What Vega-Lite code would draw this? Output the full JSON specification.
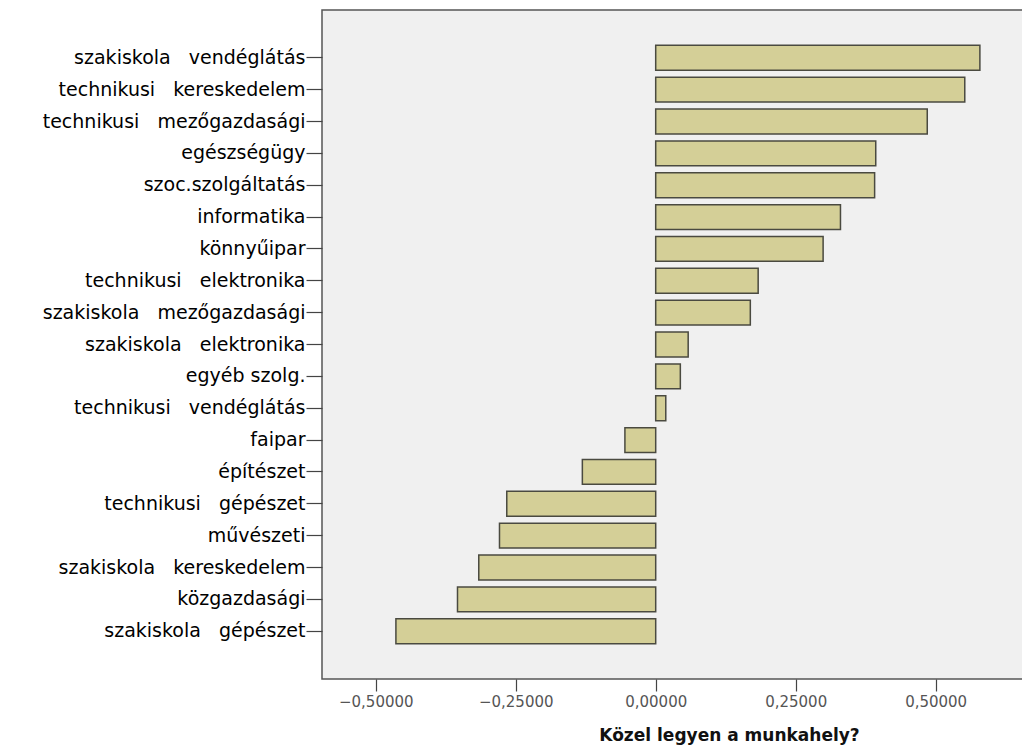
{
  "$schema": "https://vega.github.io/schema/vega-lite/v6.json",
  "width": 701,
  "height": 669,
  "autosize": "none",
  "padding": {"left": 322, "top": 10, "right": 0, "bottom": 71},
  "background": "white",
  "data": {
    "values": [
      {"kategoria": "szakiskola\u00a0\u00a0\u00a0vendéglátás", "ertek": 0.579},
      {"kategoria": "technikusi\u00a0\u00a0\u00a0kereskedelem", "ertek": 0.552},
      {"kategoria": "technikusi\u00a0\u00a0\u00a0mezőgazdasági", "ertek": 0.485},
      {"kategoria": "egészségügy", "ertek": 0.393},
      {"kategoria": "szoc.szolgáltatás", "ertek": 0.391},
      {"kategoria": "informatika", "ertek": 0.330},
      {"kategoria": "könnyűipar", "ertek": 0.299},
      {"kategoria": "technikusi\u00a0\u00a0\u00a0elektronika", "ertek": 0.183},
      {"kategoria": "szakiskola\u00a0\u00a0\u00a0mezőgazdasági", "ertek": 0.169},
      {"kategoria": "szakiskola\u00a0\u00a0\u00a0elektronika", "ertek": 0.058},
      {"kategoria": "egyéb szolg.", "ertek": 0.044},
      {"kategoria": "technikusi\u00a0\u00a0\u00a0vendéglátás", "ertek": 0.018},
      {"kategoria": "faipar", "ertek": -0.055},
      {"kategoria": "építészet", "ertek": -0.131},
      {"kategoria": "technikusi\u00a0\u00a0\u00a0gépészet", "ertek": -0.266},
      {"kategoria": "művészeti", "ertek": -0.279},
      {"kategoria": "szakiskola\u00a0\u00a0\u00a0kereskedelem", "ertek": -0.316},
      {"kategoria": "közgazdasági", "ertek": -0.354},
      {"kategoria": "szakiskola\u00a0\u00a0\u00a0gépészet", "ertek": -0.464}
    ]
  },
  "mark": {"type": "bar", "fill": "#d4cf97", "stroke": "#4a4a40", "strokeWidth": 1.5, "height": {"band": 0.78}},
  "encoding": {
    "y": {
      "field": "kategoria",
      "type": "nominal",
      "sort": null,
      "scale": {"paddingInner": 0, "paddingOuter": 1},
      "axis": {
        "title": null,
        "domain": false,
        "tickSize": 16,
        "tickColor": "#444444",
        "tickWidth": 1.2,
        "labelPadding": 1,
        "labelFont": "DejaVu Sans",
        "labelFontSize": 19,
        "labelColor": "#000000",
        "labelLimit": 320
      }
    },
    "x": {
      "field": "ertek",
      "type": "quantitative",
      "scale": {"domain": [-0.596, 0.656], "nice": false, "zero": false},
      "axis": {
        "title": "Közel legyen a munkahely?",
        "values": [-0.5, -0.25, 0, 0.25, 0.5],
        "labelExpr": "replace(format(datum.value, '.5f'), '.', ',')",
        "grid": false,
        "domain": false,
        "tickSize": 12,
        "tickColor": "#444444",
        "tickWidth": 1.2,
        "labelPadding": 3,
        "labelFont": "DejaVu Sans",
        "labelFontSize": 15,
        "labelColor": "#555555",
        "titleFont": "DejaVu Sans",
        "titleFontSize": 17,
        "titleFontWeight": "bold",
        "titleColor": "#111111",
        "titleX": 407,
        "titleY": 61,
        "titleBaseline": "alphabetic",
        "titleAnchor": "middle",
        "titleAlign": "center"
      }
    }
  },
  "config": {
    "view": {"fill": "#f0f0f0", "stroke": "#555555", "strokeWidth": 1.5}
  }
}
